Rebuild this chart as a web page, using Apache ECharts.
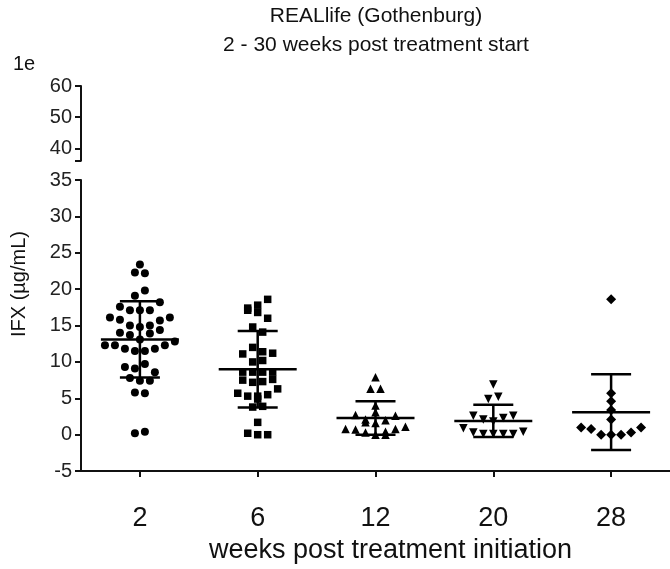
<!DOCTYPE html>
<html><head><meta charset="utf-8">
<script src="https://cdn.jsdelivr.net/npm/echarts@6/dist/echarts.min.js"></script>
<style>html,body{margin:0;padding:0;background:#fff}#c{width:670px;height:569px}</style>
</head><body><div id="c"></div>
<script>
// ---- data ----
const categories = ['2', '6', '12', '20', '28'];
const wk2 = [22.3, 22.2, 23.4, 19.1, 19.8, 17.6, 17.1, 17.1, 17.1, 18.2,
  16.1, 15.8, 15.0, 14.8, 15.0, 15.7, 16.1, 14.0, 13.7, 13.1, 13.9, 14.4,
  12.3, 12.3, 11.8, 11.5, 11.5, 11.8, 12.3, 12.8, 9.3, 9.1, 9.7, 7.8, 7.4, 7.4, 8.6,
  5.8, 5.7, 0.2, 0.4];
const wk6 = [17.4, 17.8, 18.6, 17.1, 16.8, 16.0, 14.8, 14.1, 11.1, 12.0, 11.4, 11.2,
  10.0, 10.2, 8.6, 8.6, 8.6, 8.6, 7.5, 7.2, 7.3, 7.6, 5.7, 5.3, 5.3, 5.5, 6.3, 4.9,
  3.8, 3.9, 1.7, 0.2, 0.0, 0.0];
const wk12 = [7.9, 6.3, 6.3, 4.0, 2.7, 2.1, 3.1, 2.0, 2.6, 0.8, 0.7, 1.7, 1.6, 0.4, 0.8, 1.1, 0.3, 0.0, 0.0];
const wk20 = [6.9, 4.9, 5.2, 2.6, 2.1, 1.8, 2.3, 2.6, 0.9, 0.3, 0.1, 0.1, 0.1, 0.1, 0.4];
const wk28 = [18.6, 5.7, 4.6, 3.4, 2.1, 1.0, 0.8, 0.0, 0.0, 0.0, 0.3, 1.0];
const means = [13.1, 9.0, 2.3, 1.9, 3.1];
const sds = [5.25, 5.25, 2.3, 2.2, 5.2];
const upperTickLabels = [40, 50, 60];

// ---- layout constants ----
const FONT = 'Liberation Sans, Arial, Helvetica, sans-serif';
const gridLeft = 81, gridWidth = 590;
const pxPerCat = gridWidth / categories.length;
const stepPx = 10;           // horizontal spacing of points in a row
const maxRange = 1.35;       // max value span of one row
const maxGap = 0.85;         // gap that starts a new row

// GraphPad-like row layout (computed, not typed)
function swarm(vals, cat) {
  const order = vals.map((v, i) => i).sort((a, b) => vals[b] - vals[a] || a - b);
  const bins = [];
  let cur = null, prev = null;
  for (const i of order) {
    if (!cur || vals[cur.top] - vals[i] > maxRange || vals[prev] - vals[i] > maxGap) {
      cur = { top: i, members: [] };
      bins.push(cur);
    }
    cur.members.push(i);
    prev = i;
  }
  const out = [];
  bins.forEach(b => {
    b.members.sort((a, c) => a - c);
    const n = b.members.length;
    b.members.forEach((i, k) => {
      out.push([cat + (k - (n - 1) / 2) * stepPx / pxPerCat, vals[i]]);
    });
  });
  return out;
}

const groups = [wk2, wk6, wk12, wk20, wk28];
const symbols = [
  { symbol: 'circle', size: 8, rotate: 0 },
  { symbol: 'rect', size: 7.5, rotate: 0 },
  { symbol: 'triangle', size: 8.5, rotate: 0 },
  { symbol: 'triangle', size: 8.5, rotate: 180 },
  { symbol: 'diamond', size: 10, rotate: 0 }
];

const chart = echarts.init(document.getElementById('c'), null, { renderer: 'canvas' });
const axisLineStyle = { color: '#111', width: 2 };
const catIdx = categories.map((c, i) => i);

const option = {
  animation: false,
  backgroundColor: '#fff',
  grid: [
    { left: gridLeft, top: 180, width: gridWidth, height: 300 },
    { left: gridLeft, top: 86, width: gridWidth, height: 74.7 }
  ],
  xAxis: [
    {
      gridIndex: 0, type: 'value', min: -0.5, max: 4.5,
      axisLine: { show: true, onZero: false, lineStyle: axisLineStyle },
      axisTick: { show: true, customValues: catIdx, length: 6, lineStyle: { color: '#111', width: 2 } },
      axisLabel: {
        customValues: catIdx, formatter: v => categories[Math.round(v)],
        fontSize: 27, color: '#111', fontFamily: FONT, margin: 34
      },
      splitLine: { show: false },
      name: 'weeks post treatment initiation', nameLocation: 'middle', nameGap: 65,
      nameTextStyle: { fontSize: 27, color: '#111', fontFamily: FONT, padding: [0, 0, 0, 30] }
    },
    { gridIndex: 1, type: 'value', min: -0.5, max: 4.5, show: false }
  ],
  yAxis: [
    {
      gridIndex: 0, type: 'value', min: -5, max: 35, interval: 5,
      axisLine: { show: true, onZero: false, lineStyle: axisLineStyle },
      axisTick: { show: true, length: 6, lineStyle: { color: '#111', width: 2 } },
      axisLabel: { fontSize: 20, color: '#222', fontFamily: FONT, margin: 9 },
      splitLine: { show: false }
    },
    {
      gridIndex: 1, type: 'value', min: 36, max: 60,
      axisLine: { show: true, onZero: false, lineStyle: axisLineStyle },
      axisTick: { show: true, length: 6, customValues: [36].concat(upperTickLabels), lineStyle: { color: '#111', width: 2 } },
      axisLabel: { customValues: upperTickLabels, fontSize: 20, color: '#222', fontFamily: FONT, margin: 9 },
      splitLine: { show: false }
    }
  ],
  graphic: [
    { type: 'text', x: 376, y: 16, style: { text: 'REALlife (Gothenburg)', font: '21px ' + FONT, fill: '#111', textAlign: 'center', textVerticalAlign: 'middle' } },
    { type: 'text', x: 376, y: 45, style: { text: '2 - 30 weeks post treatment start', font: '21px ' + FONT, fill: '#111', textAlign: 'center', textVerticalAlign: 'middle' } },
    { type: 'text', x: 13, y: 64, style: { text: '1e', font: '20px ' + FONT, fill: '#111', textAlign: 'left', textVerticalAlign: 'middle' } },
    { type: 'text', x: 19, y: 284, rotation: Math.PI / 2, style: { text: 'IFX (µg/mL)', font: '20px ' + FONT, fill: '#111', textAlign: 'center', textVerticalAlign: 'middle' } }
  ],
  series: groups.map((vals, i) => ({
    type: 'scatter', xAxisIndex: 0, yAxisIndex: 0,
    symbol: symbols[i].symbol, symbolSize: symbols[i].size, symbolRotate: symbols[i].rotate,
    itemStyle: { color: '#000', opacity: 1 },
    data: swarm(vals, i), z: 3
  })).concat([{
    type: 'custom', xAxisIndex: 0, yAxisIndex: 0, z: 4,
    data: catIdx.map(i => [i, means[i], sds[i]]),
    renderItem: function (params, api) {
      const x = api.value(0), m = api.value(1), s = api.value(2);
      const c = api.coord([x, m]), t = api.coord([x, m + s]), b = api.coord([x, m - s]);
      const st = { stroke: '#000', lineWidth: 2.5 };
      return {
        type: 'group', children: [
          { type: 'line', shape: { x1: c[0] - 39, y1: c[1], x2: c[0] + 39, y2: c[1] }, style: st },
          { type: 'line', shape: { x1: c[0], y1: t[1], x2: c[0], y2: b[1] }, style: st },
          { type: 'line', shape: { x1: c[0] - 20, y1: t[1], x2: c[0] + 20, y2: t[1] }, style: st },
          { type: 'line', shape: { x1: c[0] - 20, y1: b[1], x2: c[0] + 20, y2: b[1] }, style: st }
        ]
      };
    }
  }])
};
chart.setOption(option);
</script></body></html>
